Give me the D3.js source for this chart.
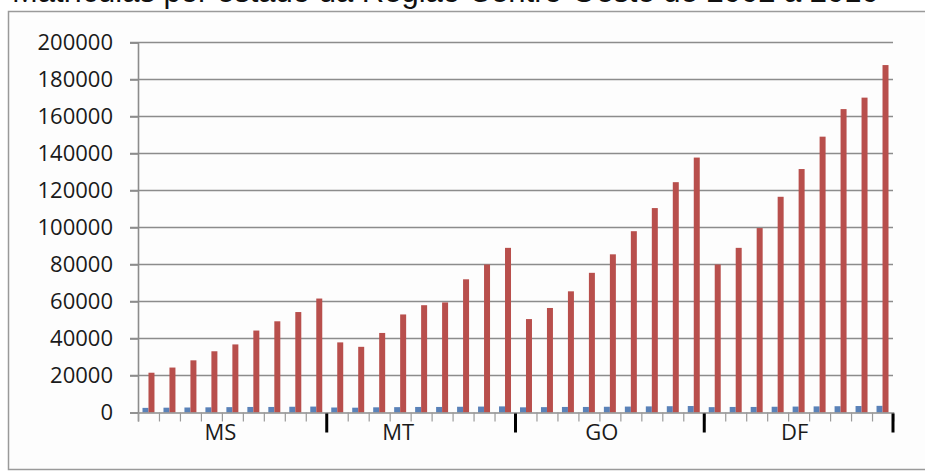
<!DOCTYPE html>
<html>
<head>
<meta charset="utf-8">
<script src="https://cdn.jsdelivr.net/npm/d3@7"></script>
<style>
  html, body { margin: 0; padding: 0; background: #ffffff; overflow: hidden; }
  svg { display: block; }
</style>
</head>
<body>
<svg id="chart" width="925" height="474"></svg>
<script>
// States of the Centro-Oeste region, nine yearly bars per state
const states = ["MS", "MT", "GO", "DF"];
const slots = ["1", "2", "3", "4", "5", "6", "7", "8", "9"];

// Small series (blue) and main series (red), in state order
const seriesSmall = [
  2500, 2600, 2700, 2800, 2900, 3000, 3000, 3100, 3200,
  2700, 2600, 2800, 2900, 3000, 3000, 3100, 3200, 3300,
  2800, 2900, 3000, 3000, 3100, 3200, 3300, 3400, 3500,
  2900, 3000, 3000, 3100, 3200, 3300, 3400, 3500, 3600
];
const seriesMain = [
  21500, 24300, 28200, 33100, 36800, 44300, 49300, 54300, 61600,
  37900, 35500, 43000, 53000, 58000, 59500, 72000, 80000, 89000,
  50500, 56500, 65500, 75500, 85500, 98000, 110500, 124500, 137800,
  80000, 89000, 99700, 116600, 131600, 149100, 164000, 170200, 187800
];

const yTicks = [0, 20000, 40000, 60000, 80000, 100000, 120000, 140000, 160000, 180000, 200000];
const titleText = "Matrículas por estado da Região Centro-Oeste de 2002 a 2010";

// Layout
const plot = { left: 138, right: 893, top: 42.5, bottom: 412.5 };
const labelNudge = [-12, -23, -8, -4];
const colSmall = "#5a82b8";
const colMain = "#b84f4c";
const gridCol = "#8c8c8c";

const svg = d3.select("#chart");

// Frame around the chart
svg.append("rect")
  .attr("x", 8.5).attr("y", 11.5)
  .attr("width", 940).attr("height", 458)
  .attr("fill", "#fdfdfd")
  .attr("stroke", "#9a9a9a").attr("stroke-width", 1.5);

// Title line running above the frame
svg.append("text")
  .attr("x", 12).attr("y", 2)
  .attr("font-family", "Liberation Sans, Arial, sans-serif")
  .attr("font-size", 31)
  .attr("fill", "#111")
  .text(titleText);

const categories = [];
states.forEach(s => slots.forEach(k => categories.push(s + "-" + k)));

const x0 = d3.scaleBand().domain(categories).range([plot.left, plot.right]).padding(0);
const x1 = d3.scaleBand().domain(["small", "main"]).range([0, x0.bandwidth()])
  .paddingInner(0).paddingOuter(0.75);
const y = d3.scaleLinear().domain([0, 200000]).range([plot.bottom, plot.top]);

// Horizontal gridlines
svg.append("g").selectAll("line")
  .data(yTicks.filter(v => v > 0))
  .join("line")
  .attr("x1", plot.left - 8).attr("x2", plot.right)
  .attr("y1", d => y(d)).attr("y2", d => y(d))
  .attr("stroke", gridCol).attr("stroke-width", 1.6);

// Y axis
const yAxis = svg.append("g")
  .attr("transform", `translate(${plot.left},0)`)
  .call(d3.axisLeft(y).tickValues(yTicks).tickSize(8).tickPadding(17).tickFormat(d3.format("d")));
yAxis.select(".domain").attr("stroke", gridCol).attr("stroke-width", 1.6);
yAxis.selectAll(".tick line").attr("stroke", gridCol).attr("stroke-width", 1.6);
yAxis.selectAll(".tick text")
  .attr("font-family", "Open Sans, sans-serif")
  .attr("font-size", 22)
  .attr("fill", "#1a1a1a");

// Bars
const rows = categories.map((c, i) => ({ cat: c, small: seriesSmall[i], main: seriesMain[i] }));
const groups = svg.append("g").selectAll("g")
  .data(rows)
  .join("g")
  .attr("transform", d => `translate(${x0(d.cat)},0)`);
groups.append("rect")
  .attr("x", x1("small")).attr("width", x1.bandwidth())
  .attr("y", d => y(d.small)).attr("height", d => y(0) - y(d.small))
  .attr("fill", colSmall);
groups.append("rect")
  .attr("x", x1("main")).attr("width", x1.bandwidth())
  .attr("y", d => y(d.main)).attr("height", d => y(0) - y(d.main))
  .attr("fill", colMain);

// X axis with a tick at every category boundary
const xb = d3.scaleLinear().domain([0, categories.length]).range([plot.left, plot.right]);
const xAxis = svg.append("g")
  .attr("transform", `translate(0,${plot.bottom})`)
  .call(d3.axisBottom(xb).tickValues(d3.range(categories.length + 1)).tickSize(9).tickFormat(""));
xAxis.select(".domain").attr("stroke", gridCol).attr("stroke-width", 1.6);
xAxis.selectAll(".tick line").attr("stroke", "#9a9a9a").attr("stroke-width", 1.2);

// Heavy marks closing each state group
svg.append("g").selectAll("line")
  .data(states.map((s, i) => (i + 1) * slots.length))
  .join("line")
  .attr("x1", d => xb(d)).attr("x2", d => xb(d))
  .attr("y1", plot.bottom + 1).attr("y2", plot.bottom + 20)
  .attr("stroke", "#000").attr("stroke-width", 3);

// State labels
svg.append("g").selectAll("text")
  .data(states)
  .join("text")
  .attr("x", (s, i) => (xb(i * slots.length) + xb((i + 1) * slots.length)) / 2 + labelNudge[i])
  .attr("y", plot.bottom + 27)
  .attr("text-anchor", "middle")
  .attr("font-family", "Open Sans, sans-serif")
  .attr("font-size", 22)
  .attr("fill", "#1a1a1a")
  .text(d => d);
</script>
</body>
</html>
